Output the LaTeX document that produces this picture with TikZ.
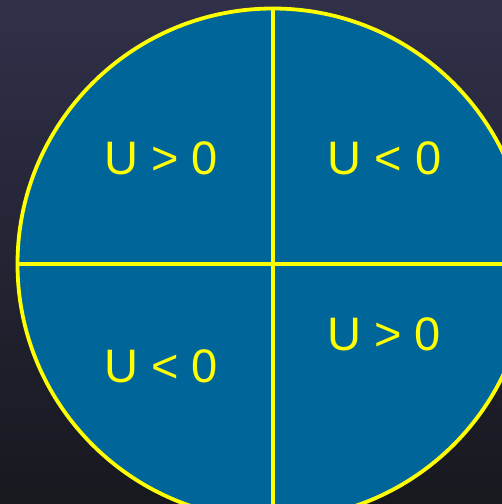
\documentclass[tikz,border=0pt]{standalone}
\usepackage{fontspec}
\setmainfont{Liberation Sans}
\definecolor{bgtop}{HTML}{30304A}
\definecolor{bgbottom}{HTML}{18181F}
\definecolor{disc}{HTML}{006699}
\definecolor{rim}{HTML}{FFFF00}
\tikzset{
    sign/.style={text=rim, font=\fontsize{47}{50}\selectfont, anchor=center, inner sep=0pt},
    rimline/.style={draw=rim, line width=3.8pt}
}
\begin{document}
\begin{tikzpicture}[x=1pt,y=-1pt]

    % Background
    \useasboundingbox (0,0) rectangle (502,504);
    \shade[top color=bgtop, bottom color=bgbottom] (0,0) rectangle (502,504);
    \clip (0,0) rectangle (502,504);

    % Centre of the disc
    \coordinate (c) at (273,264);
    \coordinate (top) at (273,9);
    \coordinate (bottom) at (273,520);
    \coordinate (left) at (17.5,264);
    \coordinate (right) at (528.5,264);

    % Disc
    \fill[disc] (c) circle (255.5);

    % Quadrant lines
    \draw[rimline] (top) -- (bottom);
    \draw[rimline] (left) -- (right);
    \draw[rimline] (c) circle (255.5);

    % Signs in the quadrants
    \node[sign] (ul) at (161,158) {U > 0};
    \node[sign] (ur) at (384.5,158) {U < 0};
    \node[sign] (ll) at (161,366) {U < 0};
    \node[sign] (lr) at (384,334) {U > 0};

\end{tikzpicture}
\end{document}
